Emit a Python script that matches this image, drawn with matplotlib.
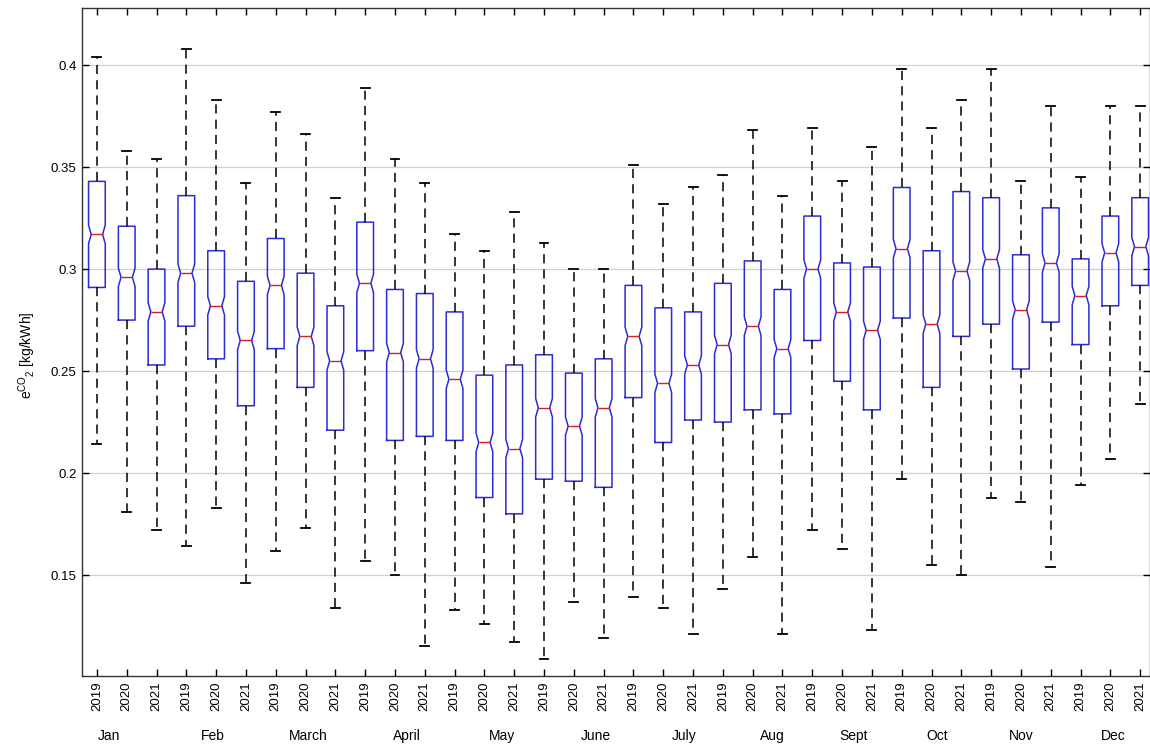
import matplotlib.pyplot as plt
import numpy as np

plt.rcParams['font.family'] = ['Liberation Sans', 'DejaVu Sans']

# data (kg/kWh)
months = ['Jan', 'Feb', 'March', 'April', 'May', 'June',
          'July', 'Aug', 'Sept', 'Oct', 'Nov', 'Dec']
years = ['2019', '2020', '2021']

whislo = [0.214, 0.181, 0.172, 0.164, 0.183, 0.146, 0.162, 0.173, 0.134,
          0.157, 0.150, 0.115, 0.133, 0.126, 0.117, 0.109, 0.137, 0.119,
          0.139, 0.134, 0.121, 0.143, 0.159, 0.121, 0.172, 0.163, 0.123,
          0.197, 0.155, 0.150, 0.188, 0.186, 0.154, 0.194, 0.207, 0.234]
q1 = [0.291, 0.275, 0.253, 0.272, 0.256, 0.233, 0.261, 0.242, 0.221,
      0.260, 0.216, 0.218, 0.216, 0.188, 0.180, 0.197, 0.196, 0.193,
      0.237, 0.215, 0.226, 0.225, 0.231, 0.229, 0.265, 0.245, 0.231,
      0.276, 0.242, 0.267, 0.273, 0.251, 0.274, 0.263, 0.282, 0.292]
med = [0.317, 0.296, 0.279, 0.298, 0.282, 0.265, 0.292, 0.267, 0.255,
       0.293, 0.259, 0.256, 0.246, 0.215, 0.212, 0.232, 0.223, 0.232,
       0.267, 0.244, 0.253, 0.263, 0.272, 0.261, 0.300, 0.279, 0.270,
       0.310, 0.273, 0.299, 0.305, 0.280, 0.303, 0.287, 0.308, 0.311]
q3 = [0.343, 0.321, 0.300, 0.336, 0.309, 0.294, 0.315, 0.298, 0.282,
      0.323, 0.290, 0.288, 0.279, 0.248, 0.253, 0.258, 0.249, 0.256,
      0.292, 0.281, 0.279, 0.293, 0.304, 0.290, 0.326, 0.303, 0.301,
      0.340, 0.309, 0.338, 0.335, 0.307, 0.330, 0.305, 0.326, 0.335]
whishi = [0.404, 0.358, 0.354, 0.408, 0.383, 0.342, 0.377, 0.366, 0.335,
          0.389, 0.354, 0.342, 0.317, 0.309, 0.328, 0.313, 0.300, 0.300,
          0.351, 0.332, 0.340, 0.346, 0.368, 0.336, 0.369, 0.343, 0.360,
          0.398, 0.369, 0.383, 0.398, 0.343, 0.380, 0.345, 0.380, 0.380]
notch = [0.0045] * 36

stats = []
for i in range(36):
    stats.append(dict(med=med[i], q1=q1[i], q3=q3[i], whislo=whislo[i],
                      whishi=whishi[i], cilo=med[i] - notch[i],
                      cihi=med[i] + notch[i], fliers=[]))

fig = plt.figure(figsize=(11.5, 7.48), dpi=100)
ax = fig.add_axes([82 / 1150, 72 / 748, 1068 / 1150, 668 / 748])

pos = np.arange(1, 37)
w = 0.56
res = ax.bxp(stats, positions=pos, widths=w, shownotches=True, showfliers=False,
             capwidths=0.3,
             boxprops=dict(color='#2b2bd6', linewidth=1.1),
             medianprops=dict(color='#d62020', linewidth=1.0),
             whiskerprops=dict(color='black', linewidth=1.1, linestyle=(0, (6, 4))),
             capprops=dict(color='black', linewidth=1.3))

# matlab-like notch: waist a bit wider than matplotlib's default
for p, box, mline in zip(pos, res['boxes'], res['medians']):
    xd = np.array(box.get_xdata(), dtype=float)
    xd[3] = p + w * 0.34
    xd[8] = p - w * 0.34
    box.set_xdata(xd)
    mline.set_xdata([p - w * 0.34, p + w * 0.34])

ax.set_xlim(0.5, 36.33)
ax.set_ylim(0.1005, 0.428)
ax.set_yticks([0.15, 0.2, 0.25, 0.3, 0.35, 0.4])
ax.set_yticklabels(['0.15', '0.2', '0.25', '0.3', '0.35', '0.4'], fontsize=9.5)
ax.set_xticks(pos)
ax.set_xticklabels(years * 12, rotation=90, fontsize=9.5)
ax.yaxis.grid(True, color='#d0d0d0', linewidth=0.9)
ax.set_axisbelow(True)
ax.tick_params(direction='in', top=True, right=True, length=5, width=1.0, pad=4)
for s in ax.spines.values():
    s.set_linewidth(1.0)
    s.set_color('#333333')

ax.set_ylabel(r'e$^{\mathregular{CO}}$$_{\mathregular{2}}$ [kg/kWh]', fontsize=10)
ax.yaxis.set_label_coords(-0.041, 0.48)

# month labels under the year ticks
month_x = [1.4, 4.9, 8.1, 11.4, 14.6, 17.75, 20.7, 23.65, 26.4, 29.2, 32.0, 35.1]
for m, x in zip(months, month_x):
    ax.text(x, -0.09, m, transform=ax.get_xaxis_transform(), ha='center',
            va='center', fontsize=10)

fig.savefig('out.png', dpi=100)
